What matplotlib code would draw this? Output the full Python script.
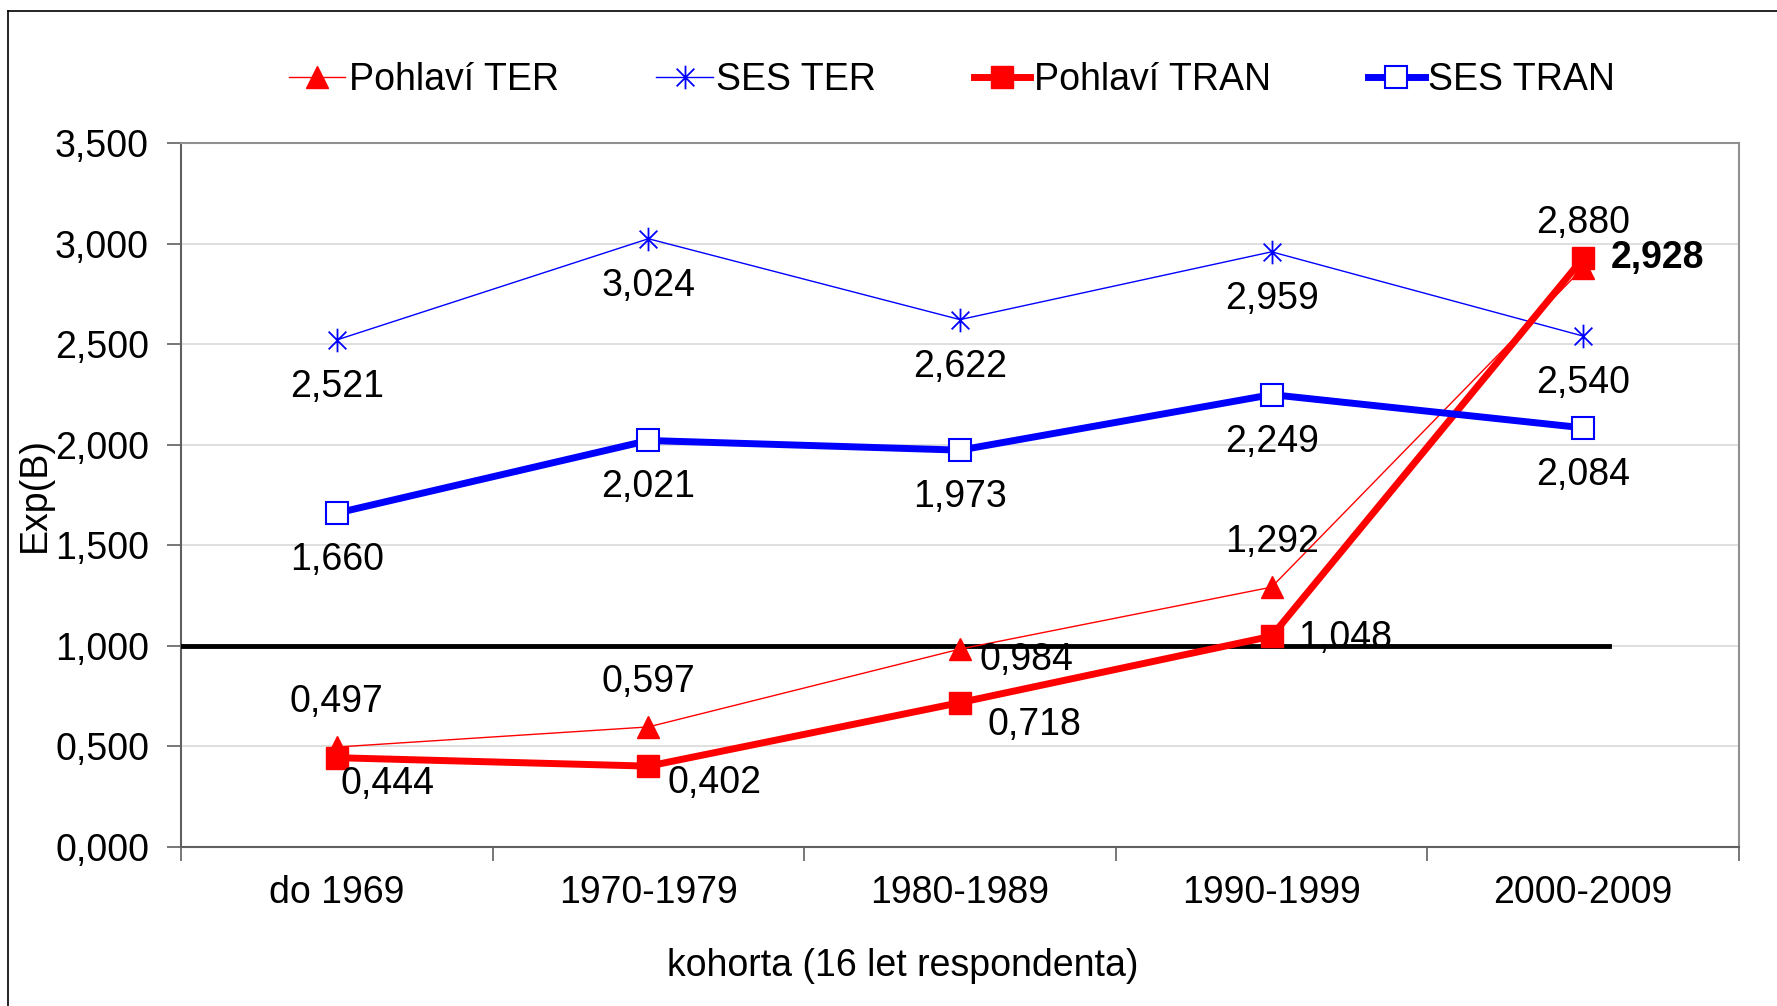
import matplotlib
matplotlib.use("Agg")
import matplotlib.pyplot as plt
from matplotlib.path import Path
from matplotlib.lines import Line2D
from matplotlib.ticker import FuncFormatter, FixedLocator

plt.rcParams['font.family'] = ['Liberation Sans', 'DejaVu Sans']

categories = ["do 1969", "1970-1979", "1980-1989", "1990-1999", "2000-2009"]
pohlavi_ter = [0.497, 0.597, 0.984, 1.292, 2.880]
ses_ter = [2.521, 3.024, 2.622, 2.959, 2.540]
pohlavi_tran = [0.444, 0.402, 0.718, 1.048, 2.928]
ses_tran = [1.660, 2.021, 1.973, 2.249, 2.084]

def fmt(v):
    return f"{v:.3f}".replace(".", ",")

W, H = 1777, 1006
fig = plt.figure(figsize=(W / 100, H / 100), dpi=100)
ax = fig.add_axes([181 / W, 1 - 847 / H, (1739 - 181) / W, (847 - 143) / H])

x = list(range(len(categories)))
FS = 27

star = Path([(0, -1), (0, 1), (-0.75, -0.75), (0.75, 0.75), (-0.75, 0.75), (0.75, -0.75)],
            [Path.MOVETO, Path.LINETO, Path.MOVETO, Path.LINETO, Path.MOVETO, Path.LINETO])

ax.plot(x, pohlavi_ter, color='#FF0000', lw=1.0, marker='^', ms=16, mfc='#FF0000', mec='#FF0000', zorder=4, label='Pohlaví TER')
ax.plot(x, ses_ter, color='#0000FF', lw=1.0, marker=star, ms=17, mfc='none', mec='#0000FF', mew=1.3, zorder=4, label='SES TER')
ax.plot(x, pohlavi_tran, color='#FF0000', lw=5, marker='s', ms=16, mfc='#FF0000', mec='#FF0000', zorder=5, label='Pohlaví TRAN')
ax.plot(x, ses_tran, color='#0000FF', lw=5, marker='s', ms=16, mfc='white', mec='#0000FF', mew=1.5, zorder=5, label='SES TRAN')

ax.axhline(1.0, xmin=0, xmax=(4.084 + 0.5) / 5, color='black', lw=3.5, zorder=3)

# data labels
for i, v in enumerate(pohlavi_ter):
    off = (0, 45)
    if i == 2:
        off = (66, -11)
    ax.annotate(fmt(v), (i, v), xytext=off, textcoords='offset pixels', ha='center', va='center', fontsize=FS, zorder=6)
for i, v in enumerate(ses_ter):
    ax.annotate(fmt(v), (i, v), xytext=(0, -47), textcoords='offset pixels', ha='center', va='center', fontsize=FS, zorder=6)
tran_offs = [(51, -26), (66, -17), (74, -22), (74, -2), (0, 0)]
for i, v in enumerate(pohlavi_tran):
    if i == 4:
        ax.annotate(fmt(v), (i, v), xytext=(28, 0), textcoords='offset pixels', ha='left', va='center',
                    fontsize=FS, fontweight='bold', zorder=6)
    else:
        ax.annotate(fmt(v), (i, v), xytext=tran_offs[i], textcoords='offset pixels', ha='center', va='center', fontsize=FS, zorder=6)
for i, v in enumerate(ses_tran):
    ax.annotate(fmt(v), (i, v), xytext=(0, -47), textcoords='offset pixels', ha='center', va='center', fontsize=FS, zorder=6)

ax.set_xlim(-0.5, 4.5)
ax.set_ylim(0, 3.5)
ax.set_yticks([i * 0.5 for i in range(8)])
ax.yaxis.set_major_formatter(FuncFormatter(lambda v, p: fmt(v)))
ax.grid(axis='y', color='#D9D9D9', lw=1.2, zorder=0)
ax.set_axisbelow(True)

ax.xaxis.set_major_locator(FixedLocator([i - 0.5 for i in range(6)]))
ax.xaxis.set_minor_locator(FixedLocator(x))
ax.set_xticklabels([''] * 6)
ax.set_xticklabels(categories, minor=True)
ax.tick_params(axis='x', which='major', direction='out', length=10, width=1.2, color='#606060')
ax.tick_params(axis='x', which='minor', length=0, pad=20, labelsize=FS)
ax.tick_params(axis='y', direction='out', length=10, width=1.2, color='#606060', labelsize=FS, pad=13)

for s in ['left', 'bottom']:
    ax.spines[s].set_color('#606060')
    ax.spines[s].set_linewidth(1.5)
for s in ['top', 'right']:
    ax.spines[s].set_color('#909090')
    ax.spines[s].set_linewidth(1.5)

ax.set_xlabel('kohorta (16 let respondenta)', fontsize=FS)
ax.xaxis.set_label_coords((903 - 181) / (1739 - 181), -(948 - 847) / (847 - 143))
ax.set_ylabel('Exp(B)', fontsize=FS)
ax.yaxis.set_label_coords((53 - 181) / (1739 - 181), 0.5)

handles, labels = ax.get_legend_handles_labels()
fig.legend(handles, labels, loc='center', bbox_to_anchor=(952 / W, 1 - 80 / H), ncol=4, frameon=False,
           fontsize=FS, handlelength=1.5, handletextpad=0.1, columnspacing=2.6, markerscale=1.0)

# figure border
fig.add_artist(Line2D([8 / W, 8 / W], [0, 1 - 11 / H], transform=fig.transFigure, color='black', lw=1.2))
fig.add_artist(Line2D([8 / W, 1], [1 - 11 / H, 1 - 11 / H], transform=fig.transFigure, color='black', lw=1.2))

fig.savefig('out.png', dpi=100)
